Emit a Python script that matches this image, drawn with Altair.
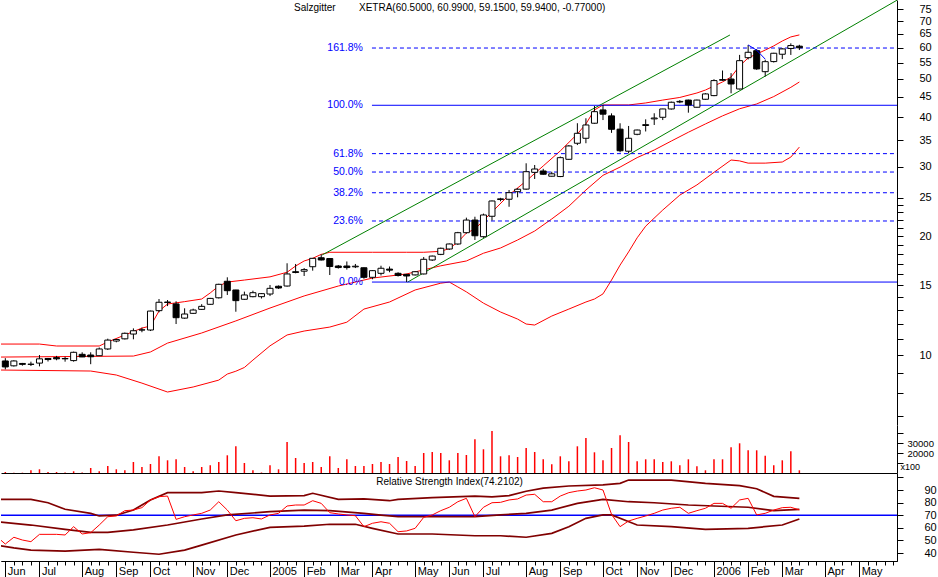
import altair as alt
import pandas as pd

FONT = "Liberation Sans"
FIRST_WEEK = pd.Timestamp("2004-05-31")

# ---------------- weekly candles (Salzgitter, XETRA) ----------------
opens = [9.66, 9.39, 9.52, 9.47, 9.54, 9.80, 9.85, 9.78, 9.68, 10.04,
         10.00, 9.96, 10.36, 10.85, 10.99, 11.30, 11.57, 11.57, 12.95, 13.58,
         13.47, 12.40, 12.75, 13.05, 13.44, 13.96, 15.37, 14.61, 13.84, 14.05,
         14.05, 14.27, 14.93, 14.95, 16.25, 16.30, 16.73, 17.63, 17.55, 16.80,
         16.80, 16.72, 16.63, 15.73, 16.10, 16.50, 16.10, 16.00, 15.95, 16.04,
         17.40, 17.98, 18.55, 19.10, 20.40, 21.96, 19.93, 22.45, 24.75, 24.79,
         25.91, 26.30, 29.00, 29.23, 28.35, 28.30, 31.29, 34.36, 35.37, 38.61,
         41.72, 40.30, 37.30, 32.80, 36.20, 38.10, 39.60, 39.97, 41.96, 43.70,
         44.19, 42.38, 44.40, 45.35, 49.60, 49.95, 47.14, 56.57, 58.93, 52.14,
         55.30, 57.72, 59.70, 60.50]
highs = [9.82, 9.70, 9.55, 9.62, 10.00, 9.83, 9.95, 9.90, 10.20, 10.16,
         10.16, 10.45, 11.00, 10.97, 11.40, 11.68, 11.73, 12.95, 13.86, 13.78,
         13.68, 13.13, 13.10, 13.45, 13.95, 15.15, 15.73, 14.62, 14.47, 14.55,
         14.35, 15.04, 15.00, 17.07, 17.00, 16.60, 17.60, 17.98, 17.60, 16.90,
         17.25, 17.00, 16.65, 16.40, 16.83, 16.75, 16.20, 16.05, 16.30, 17.70,
         17.85, 18.70, 19.15, 20.50, 22.27, 22.39, 22.80, 24.60, 25.00, 26.16,
         26.45, 30.57, 30.27, 29.60, 29.10, 31.80, 34.00, 38.61, 39.74, 42.70,
         42.95, 40.90, 38.60, 38.00, 37.20, 39.50, 40.92, 42.00, 43.80, 44.19,
         44.30, 44.30, 46.00, 49.90, 52.50, 51.70, 57.50, 60.93, 59.50, 55.90,
         58.20, 59.80, 61.50, 60.99]
lows = [9.20, 9.35, 9.40, 9.38, 9.36, 9.63, 9.70, 9.62, 9.62, 9.88,
        9.48, 9.96, 10.30, 10.77, 10.95, 10.96, 11.42, 11.50, 12.83, 13.30,
        11.98, 12.35, 12.70, 13.00, 13.40, 13.90, 14.19, 12.87, 13.80, 14.00,
        13.90, 14.10, 14.70, 14.90, 16.10, 15.85, 16.35, 17.35, 15.94, 16.55,
        16.45, 16.60, 15.60, 15.55, 15.90, 16.20, 15.80, 15.30, 15.90, 16.00,
        17.30, 17.90, 18.45, 19.00, 20.30, 19.55, 19.80, 21.90, 24.50, 23.73,
        25.07, 26.20, 27.90, 28.60, 28.30, 28.20, 31.20, 34.00, 34.36, 38.50,
        39.33, 36.50, 32.60, 32.40, 36.00, 36.80, 38.22, 39.33, 41.80, 43.40,
        41.06, 42.30, 44.30, 45.20, 49.40, 45.97, 47.00, 56.00, 52.70, 50.70,
        55.00, 56.10, 57.49, 59.15]
closes = [9.33, 9.66, 9.47, 9.48, 9.78, 9.74, 9.78, 9.80, 10.16, 9.89,
          9.90, 10.36, 10.91, 10.95, 11.35, 11.52, 11.58, 12.92, 13.60, 13.62,
          12.43, 12.70, 13.00, 13.28, 13.91, 15.10, 14.55, 13.73, 14.19, 14.38,
          14.30, 14.75, 14.78, 16.04, 16.18, 16.45, 17.57, 17.40, 16.75, 16.65,
          16.65, 16.78, 15.73, 16.35, 16.58, 16.40, 15.90, 15.85, 16.25, 17.47,
          17.80, 18.63, 19.10, 20.40, 21.96, 20.04, 22.62, 24.54, 24.85, 25.76,
          26.28, 29.11, 29.57, 28.68, 28.75, 31.59, 33.82, 36.41, 38.22, 41.30,
          40.70, 37.27, 32.89, 35.37, 37.11, 38.30, 39.80, 41.96, 43.63, 43.85,
          42.95, 44.19, 45.80, 49.50, 49.80, 48.53, 55.60, 58.38, 52.98, 55.27,
          58.05, 59.54, 60.71, 59.94]
# volume, in units of 100 shares (axis reads "x100")
volumes = [1000, 300, 300, 2700, 3700, 1000, 1000, 500, 1700, 500,
           5000, 1700, 7000, 3700, 2700, 11000, 6000, 9000, 16700, 12700,
           13700, 6000, 1700, 6000, 7700, 11000, 17700, 26700, 10000, 2700,
           500, 7700, 3700, 31000, 15000, 10000, 11000, 6000, 16700, 5000,
           13700, 7000, 7000, 9000, 11000, 9000, 16000, 12000, 7000, 20000,
           21000, 20000, 12700, 20000, 18000, 33700, 23700, 42000, 16700, 17700,
           16000, 25000, 21000, 13700, 8700, 16700, 11700, 26700, 35000, 20700,
           12700, 25000, 37700, 31000, 11700, 13700, 13700, 11000, 11700, 7700,
           13700, 6700, 2700, 13700, 13700, 25700, 29700, 22700, 22700, 17200,
           7700, 12700, 21700, 2700]
# RSI, starting one week before the first candle (week index -1)
rsi_values = [53.0,
              47.1, 52.5, 50.3, 49.0, 54.8, 54.8, 54.8, 54.3, 60.9, 55.1,
              56.1, 62.2, 68.8, 69.4, 73.6, 74.1, 76.0, 82.1, 84.7, 85.2,
              66.7, 68.8, 70.2, 71.5, 74.1, 80.7, 74.1, 65.6, 67.5, 68.0,
              67.0, 70.2, 71.5, 77.3, 78.1, 78.1, 81.5, 79.4, 72.0, 71.0,
              70.2, 69.6, 60.9, 63.6, 64.8, 63.6, 56.9, 57.5, 59.6, 68.3,
              70.2, 73.6, 76.3, 80.7, 83.4, 68.8, 76.3, 79.9, 80.2, 82.1,
              82.9, 86.0, 86.6, 80.7, 80.7, 85.2, 87.9, 89.2, 90.0, 91.8,
              90.0, 70.7, 60.9, 65.4, 67.5, 69.4, 71.5, 74.1, 75.5, 76.3,
              71.5, 73.6, 75.5, 79.4, 79.4, 75.5, 82.1, 83.4, 70.2, 71.5,
              74.1, 76.0, 76.3, 74.2]

# ---------------- Bollinger bands on price (week index, value) ----------------
bb_upper_idx = [-1, 4, 6, 11, 12, 14, 16, 17, 18, 19, 21, 23, 24, 25, 26, 28, 31, 33, 34, 35,
                36, 37, 38, 43, 47, 49, 51, 52, 53, 54, 55, 57, 59, 61, 63, 65, 67, 68, 69, 70,
                73, 75, 77, 79, 81, 82, 83, 84, 85, 86, 87, 88, 89, 90, 91, 92, 93]
bb_upper_val = [10.66, 10.66, 10.54, 10.54, 10.79, 11.24, 11.70, 11.84, 12.92, 13.46,
                13.65, 13.86, 14.36, 14.95, 15.30, 15.48, 15.77, 16.20, 16.80, 17.30,
                17.57, 17.98, 18.20, 18.20, 18.20, 18.20, 18.30, 18.60, 19.32, 20.36,
                20.84, 23.01, 25.42, 27.57, 30.10, 32.86, 36.27, 38.45, 41.72, 42.95,
                42.95, 43.45, 44.19, 44.87, 46.05, 46.85, 47.97, 49.11, 50.55, 53.90,
                56.50, 57.80, 59.14, 60.60, 62.35, 63.85, 64.60]
bb_mid_idx = [-1, 15, 17, 19, 23, 27, 31, 35, 39, 43, 47, 51, 54, 56, 58, 60, 62, 64, 66, 68,
              70, 72, 74, 76, 78, 80, 82, 84, 86, 88, 90, 92, 93]
bb_mid_val = [9.88, 9.94, 10.18, 10.72, 11.37, 12.20, 13.15, 14.11, 14.95, 15.66,
              16.04, 16.82, 17.30, 18.10, 18.66, 19.55, 20.60, 22.10, 23.80, 26.16,
              28.50, 29.90, 31.60, 33.03, 34.80, 36.63, 38.45, 40.30, 42.00, 43.20,
              45.10, 47.60, 49.10]
bb_lower_idx = [-1, 10, 13, 16, 19, 22, 25, 26, 27, 28, 29, 31, 33, 35, 38, 40, 42, 45, 48, 51,
                52, 53, 54, 56, 58, 60, 61, 62, 64, 66, 68, 69, 70, 71, 72, 73, 74, 75, 77, 79,
                81, 83, 85, 86, 87, 89, 91, 92, 93]
bb_lower_val = [9.165, 9.11, 8.90, 8.49, 8.06, 8.30, 8.64, 8.95, 9.10, 9.30,
                9.71, 10.55, 11.24, 11.50, 11.77, 12.11, 13.07, 13.62, 14.61, 15.20,
                15.30, 14.87, 14.45, 13.53, 12.85, 12.33, 11.98, 11.91, 12.55, 13.07,
                13.62, 13.86, 14.28, 15.48, 16.89, 18.24, 19.80, 21.19, 23.28, 25.40,
                26.95, 29.00, 31.16, 31.00, 30.60, 30.60, 30.80, 31.70, 33.60]

# ---------------- Bollinger bands on RSI ----------------
rsi_up_idx = [-1, 3, 5, 7, 10, 11, 13, 15, 17, 19, 23, 25, 27, 31, 35, 36, 39, 42, 45, 46,
              50, 55, 57, 59, 61, 63, 66, 70, 72, 73, 78, 82, 86, 88, 90, 93]
rsi_up_val = [82.6, 82.6, 79.9, 74.7, 71.5, 69.4, 70.0, 74.1, 82.1, 87.9,
              87.9, 89.2, 87.9, 85.2, 85.6, 87.4, 82.6, 83.0, 81.5, 82.6,
              84.0, 85.2, 84.5, 85.5, 89.0, 91.5, 93.2, 94.0, 95.3, 97.9,
              97.9, 95.3, 93.5, 91.0, 85.0, 83.4]
rsi_mid_idx = [-1, 3, 7, 10, 12, 15, 19, 23, 26, 31, 35, 38, 42, 44, 46, 50, 55, 58, 61, 64,
               67, 70, 73, 76, 80, 83, 87, 90, 93]
rsi_mid_val = [64.8, 62.2, 58.8, 56.4, 56.4, 58.3, 62.2, 67.0, 70.2, 72.8,
               74.1, 73.6, 71.5, 70.0, 68.8, 68.8, 68.8, 70.2, 71.5, 74.1,
               79.4, 82.6, 80.7, 79.9, 78.1, 77.3, 76.3, 73.6, 74.7]
rsi_low_idx = [-1, 1, 3, 7, 11, 15, 18, 21, 23, 27, 31, 35, 38, 41, 43, 46, 50, 55, 58, 61,
               64, 66, 68, 70, 71, 74, 78, 82, 87, 91, 93]
rsi_low_val = [46.3, 44.0, 42.3, 41.5, 42.9, 40.6, 39.0, 42.3, 46.3, 54.3,
               60.4, 61.4, 62.8, 62.8, 59.6, 55.1, 55.1, 53.7, 53.7, 52.5,
               55.6, 60.9, 67.5, 70.2, 70.2, 62.2, 60.9, 58.8, 59.6, 62.2,
               67.0]
rsi_ref_level = 70

# ---------------- Fibonacci retracement ----------------
fib_labels = ["0.0%", "23.6%", "38.2%", "50.0%", "61.8%", "100.0%", "161.8%"]
fib_levels = [15.30, 21.84, 25.75, 29.05, 32.34, 42.87, 59.85]
fib_dashed = [False, True, True, True, True, False, True]
fib_start = "2005-03-27T14:00:00"
fib_end = "2006-06-01T01:00:00"

# ---------------- trend channel (green) ----------------
channel_upper_dates = ["2005-02-14T19:00:00", "2006-01-15T02:00:00"]
channel_upper_vals = [17.92, 64.58]
channel_lower_dates = ["2005-04-25T22:00:00", "2006-06-01T01:00:00"]
channel_lower_vals = [15.30, 79.10]

# small blue line near the February 2006 high
blue_seg_idx = [87, 88, 89]
blue_seg_vals = [60.93, 59.10, 56.10]

# ---------------- axis ticks / labels ----------------
x_start = "2004-05-27T11:00:00"
x_end = "2006-06-01T01:00:00"
price_ticks = [7, 8, 9, 10, 11, 12, 13, 14, 15, 16, 17, 18, 19, 20, 21, 22, 23, 24, 25,
               30, 35, 40, 45, 50, 55, 60, 65, 70, 75]
vol_ticks = [10000, 20000, 30000, 40000]
rsi_ticks = [40, 50, 60, 70, 80, 90, 100]
month_tick_dates = ["2004-05-31", "2004-06-28", "2004-08-02", "2004-08-30", "2004-09-27",
                    "2004-11-01", "2004-11-29", "2005-01-03", "2005-01-31", "2005-02-28",
                    "2005-03-28", "2005-05-02", "2005-05-30", "2005-06-27", "2005-08-01",
                    "2005-08-29", "2005-10-03", "2005-10-31", "2005-11-28", "2006-01-02",
                    "2006-01-30", "2006-02-27", "2006-04-03", "2006-05-01"]
month_labels = ["Jun", "Jul", "Aug", "Sep", "Oct", "Nov", "Dec", "2005", "Feb", "Mar",
                "Apr", "May", "Jun", "Jul", "Aug", "Sep", "Oct", "Nov", "Dec", "2006",
                "Feb", "Mar", "Apr", "May"]
n_week_ticks = 105

title_left = "Salzgitter"
title_right = "XETRA(60.5000, 60.9900, 59.1500, 59.9400, -0.77000)"
rsi_title = "Relative Strength Index(74.2102)"

# ======================================================================
def wk(i):
    return FIRST_WEEK + pd.Timedelta(weeks=i)

def dt(ts):
    ts = pd.Timestamp(ts)
    return alt.DateTime(year=ts.year, month=ts.month, date=ts.day, hours=ts.hour)

dates = [wk(i) for i in range(len(closes))]
candles = pd.DataFrame({"date": dates, "open": opens, "high": highs,
                        "low": lows, "close": closes})

xscale = alt.Scale(domain=[dt(x_start), dt(x_end)])
pscale = alt.Scale(type="log", domain=[6.651, 79.18], nice=False, zero=False)
vscale = alt.Scale(domain=[0, 48000], nice=False, zero=False)
rscale = alt.Scale(domain=[33.65, 103.5], nice=False, zero=False)

common_axis = dict(domainColor="black", tickColor="black", labelColor="black",
                   labelFont=FONT, labelFontSize=11, grid=False, title=None,
                   labelFlush=False, labelOverlap=False, labelBound=False)

price_axis = alt.Axis(orient="right", values=price_ticks, format="d",
                      labelExpr="datum.value % 5 == 0 ? datum.label : ''",
                      tickSize=6, labelPadding=16, labelAlign="left",
                      labelBaseline="middle", **common_axis)


def XN(field="date"):
    return alt.X(f"{field}:T", scale=xscale, axis=None)


def YP(field):
    return alt.Y(f"{field}:Q", scale=pscale, axis=price_axis)


# ---------- price panel ----------
wicks = alt.Chart(candles).mark_rule(color="black", strokeWidth=1).encode(
    x=XN(), y=YP("low"), y2="high:Q")
bodies = alt.Chart(candles).mark_rect(
    xOffset=-3, x2Offset=3, stroke="black", strokeWidth=1).encode(
    x=XN(), x2="date:T", y=YP("open"), y2="close:Q",
    fill=alt.condition("datum.close >= datum.open", alt.value("white"), alt.value("black")))

bands = pd.concat([
    pd.DataFrame({"date": [wk(i) for i in bb_upper_idx], "p": bb_upper_val, "band": "upper"}),
    pd.DataFrame({"date": [wk(i) for i in bb_mid_idx], "p": bb_mid_val, "band": "mid"}),
    pd.DataFrame({"date": [wk(i) for i in bb_lower_idx], "p": bb_lower_val, "band": "lower"}),
])
band_lines = alt.Chart(bands).mark_line(color="#ff0000", strokeWidth=1, clip=True).encode(
    x=XN(), y=YP("p"), detail="band:N")

channel = pd.concat([
    pd.DataFrame({"date": pd.to_datetime(channel_upper_dates), "p": channel_upper_vals, "line": "u"}),
    pd.DataFrame({"date": pd.to_datetime(channel_lower_dates), "p": channel_lower_vals, "line": "l"}),
])
channel_lines = alt.Chart(channel).mark_line(color="#008000", strokeWidth=1, clip=True).encode(
    x=XN(), y=YP("p"), detail="line:N")

fib = pd.DataFrame({"start": pd.Timestamp(fib_start), "end": pd.Timestamp(fib_end),
                    "p": fib_levels, "label": fib_labels, "dashed": fib_dashed})
fib_solid = alt.Chart(fib[~fib["dashed"]]).mark_rule(color="#0000ff", strokeWidth=1).encode(
    x=XN("start"), x2="end:T", y=YP("p"))
fib_dash = alt.Chart(fib[fib["dashed"]]).mark_rule(
    color="#0000ff", strokeWidth=1, strokeDash=[4, 3]).encode(
    x=XN("start"), x2="end:T", y=YP("p"))
fib_text = alt.Chart(fib).mark_text(
    align="right", baseline="middle", dx=-9, color="#0000ff", fontSize=10.5, font=FONT).encode(
    x=XN("start"), y=YP("p"), text="label:N")

blue_seg = alt.Chart(pd.DataFrame({"date": [wk(i) for i in blue_seg_idx], "p": blue_seg_vals})
                     ).mark_line(color="#0000ff", strokeWidth=1).encode(x=XN(), y=YP("p"))

titles = pd.DataFrame({"date": pd.to_datetime(["2005-01-22T16:00:00", "2005-03-16T23:00:00"]),
                       "p": [75.4, 75.4], "t": [title_left, title_right]})
title_text = alt.Chart(titles).mark_text(
    align="left", baseline="middle", fontSize=10, font=FONT, color="black").encode(
    x=XN(), y=YP("p"), text="t:N")

price_panel = alt.layer(
    band_lines, channel_lines, fib_solid, fib_dash, wicks, bodies, blue_seg, fib_text, title_text
).properties(width=896, height=425)

# ---------- volume panel ----------
vol_df = pd.DataFrame({"date": dates, "vol": volumes, "zero": 0})
vol_axis = alt.Axis(orient="right", values=vol_ticks, format="d",
                    labelExpr="(datum.value == 20000 || datum.value == 30000) ? datum.label : ''",
                    tickSize=6, labelPadding=4, labelAlign="left", labelBaseline="middle",
                    domainColor="black", tickColor="black", labelColor="black",
                    labelFont=FONT, labelFontSize=9.5, grid=False,
                    labelFlush=False, labelOverlap=False, labelBound=False,
                    title="x100", titleAngle=0, titleX=3, titleY=41, titleAlign="left",
                    titleBaseline="middle", titleFontSize=9, titleFontWeight="normal",
                    titleColor="black", titleFont=FONT)
vol_panel = alt.Chart(vol_df).mark_rule(color="#ff0000", strokeWidth=1.5).encode(
    x=alt.X("date:T", scale=xscale,
            axis=alt.Axis(orient="bottom", ticks=False, labels=False, domain=True,
                          domainColor="black", grid=False, title=None)),
    y=alt.Y("vol:Q", scale=vscale, axis=vol_axis),
    y2="zero:Q",
).properties(width=896, height=48)

# ---------- RSI panel ----------
rsi_axis = alt.Axis(orient="right", values=rsi_ticks,
                    labelExpr="datum.value < 100 ? datum.label : ''",
                    tickSize=6, labelPadding=21, labelAlign="left", labelBaseline="middle",
                    **common_axis)


def YR(field):
    return alt.Y(f"{field}:Q", scale=rscale, axis=rsi_axis)


rsi_df = pd.DataFrame({"date": [wk(i) for i in range(-1, len(closes))], "v": rsi_values})
rsi_bands = pd.concat([
    pd.DataFrame({"date": [wk(i) for i in rsi_up_idx], "v": rsi_up_val, "band": "u"}),
    pd.DataFrame({"date": [wk(i) for i in rsi_mid_idx], "v": rsi_mid_val, "band": "m"}),
    pd.DataFrame({"date": [wk(i) for i in rsi_low_idx], "v": rsi_low_val, "band": "l"}),
])

ref_df = pd.DataFrame({"start": [pd.Timestamp(x_start)], "end": [pd.Timestamp(x_end)],
                       "v": [rsi_ref_level]})
line70 = alt.Chart(ref_df).mark_rule(color="#0000ff", strokeWidth=1.5).encode(
    x=XN("start"), x2="end:T", y=YR("v"))
rsi_band_lines = alt.Chart(rsi_bands).mark_line(color="#800000", strokeWidth=1.7, clip=True).encode(
    x=XN(), y=YR("v"), detail="band:N")
rsi_line = alt.Chart(rsi_df).mark_line(color="#ff0000", strokeWidth=1, clip=True).encode(
    x=XN(), y=YR("v"))
rsi_title_text = alt.Chart(pd.DataFrame({"date": [pd.Timestamp("2005-05-30T05:00:00")], "v": [96.7],
                                         "t": [rsi_title]})).mark_text(
    align="center", baseline="middle", fontSize=10, font=FONT, color="black").encode(
    x=XN(), y=YR("v"), text="t:N")

week_ticks = [dt(wk(i)) for i in range(n_week_ticks)]
month_ticks = [dt(d) for d in month_tick_dates]
label_expr = "".join(
    f"timeFormat(datum.value, '%Y-%m-%d') == '{d}' ? '{lab}' : "
    for d, lab in zip(month_tick_dates, month_labels)) + "''"

week_axis = alt.Axis(orient="bottom", values=week_ticks, tickSize=4, labels=False,
                     domain=True, domainColor="black", tickColor="black", grid=False, title=None)
month_axis = alt.Axis(orient="bottom", values=month_ticks, tickSize=16, labelExpr=label_expr,
                      labelAlign="left", labelBaseline="top", labelPadding=-12, labelOffset=2,
                      labelFont=FONT, labelFontSize=11, labelColor="black",
                      domain=True, domainColor="black", tickColor="black", grid=False, title=None,
                      labelFlush=False, labelOverlap=False, labelBound=False)

tick_df = pd.DataFrame({"date": [wk(i) for i in range(n_week_ticks)], "v": rsi_ref_level})
week_axis_layer = alt.Chart(tick_df).mark_point(opacity=0).encode(
    x=alt.X("date:T", scale=xscale, axis=week_axis), y=YR("v"))
month_df = pd.DataFrame({"date": pd.to_datetime(month_tick_dates), "v": rsi_ref_level})
month_axis_layer = alt.Chart(month_df).mark_point(opacity=0).encode(
    x=alt.X("date:T", scale=xscale, axis=month_axis), y=YR("v"))

rsi_panel = alt.layer(
    line70, rsi_band_lines, rsi_line, rsi_title_text, week_axis_layer, month_axis_layer
).resolve_axis(x="independent").properties(width=896, height=88)

chart = alt.vconcat(price_panel, vol_panel, rsi_panel, spacing=0, bounds="flush").properties(
    padding=0, background="white"
).configure_view(stroke=None).configure_text(font=FONT)

chart.save("out.html", embed_options={"renderer": "svg", "actions": False})
